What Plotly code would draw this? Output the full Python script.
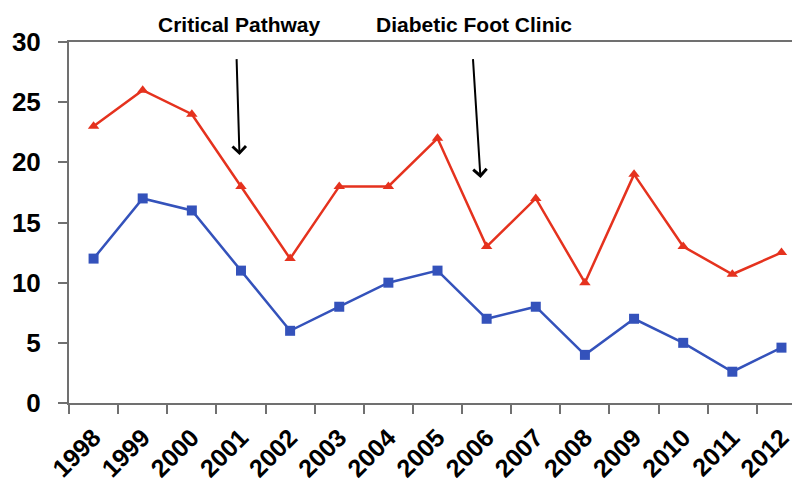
import plotly.graph_objects as go

years = [str(y) for y in range(1998, 2013)]
red_values = [23, 26, 24, 18, 12, 18, 18, 22, 13, 17, 10, 19, 13, 10.7, 12.5]
blue_values = [12, 17, 16, 11, 6, 8, 10, 11, 7, 8, 4, 7, 5, 2.6, 4.6]
y_ticks = [0, 5, 10, 15, 20, 25, 30]

RED = "#e5321e"
BLUE = "#3452bb"
AXIS = "#707070"

fig = go.Figure()
fig.add_trace(go.Scatter(
    x=years, y=red_values, mode="lines+markers",
    line=dict(color=RED, width=2.5),
    marker=dict(symbol="triangle-up", size=10, color=RED),
    showlegend=False, cliponaxis=False,
))
fig.add_trace(go.Scatter(
    x=years, y=blue_values, mode="lines+markers",
    line=dict(color=BLUE, width=2.5),
    marker=dict(symbol="square", size=10, color=BLUE),
    showlegend=False, cliponaxis=False,
))

fig.update_xaxes(
    type="category", range=[-0.5, 14.54], automargin=False,
    tickson="boundaries", ticks="outside", ticklen=9, tickwidth=1.5, tickcolor=AXIS,
    showline=True, linecolor=AXIS, linewidth=2, mirror=True,
    showgrid=False, zeroline=False,
    tickangle=-45, ticklabelstandoff=8,
    tickfont=dict(family="Liberation Sans", size=25, color="black", weight="bold"),
)
fig.update_yaxes(
    range=[0, 30], tickvals=y_ticks, automargin=False,
    ticks="outside", ticklen=9, tickwidth=1.5, tickcolor=AXIS,
    showline=True, linecolor=AXIS, linewidth=2,
    showgrid=False, zeroline=False, ticklabelstandoff=12,
    tickfont=dict(family="Liberation Sans", size=26, color="black", weight="bold"),
)

label_font = dict(family="Liberation Sans", size=21, color="black", weight="bold")
fig.add_annotation(text="Critical Pathway", x=2.98, y=1.0, xref="x", yref="paper",
                   yanchor="bottom", yshift=4, showarrow=False, font=label_font)
fig.add_annotation(text="Diabetic Foot Clinic", x=7.75, y=1.0, xref="x", yref="paper",
                   yanchor="bottom", yshift=4, showarrow=False, font=label_font)

fig.add_annotation(x=2.97, y=20.6, ax=2.91, ay=28.7, xref="x", yref="y", axref="x", ayref="y",
                   showarrow=True, arrowhead=4, arrowsize=1.3, arrowwidth=2, arrowcolor="black", text="")
fig.add_annotation(x=7.875, y=18.7, ax=7.72, ay=28.7, xref="x", yref="y", axref="x", ayref="y",
                   showarrow=True, arrowhead=4, arrowsize=1.3, arrowwidth=2, arrowcolor="black", text="")

fig.update_layout(
    width=800, height=487,
    margin=dict(l=61, r=0, t=34, b=92),
    paper_bgcolor="white", plot_bgcolor="white",
)

fig.write_html("out.html")
